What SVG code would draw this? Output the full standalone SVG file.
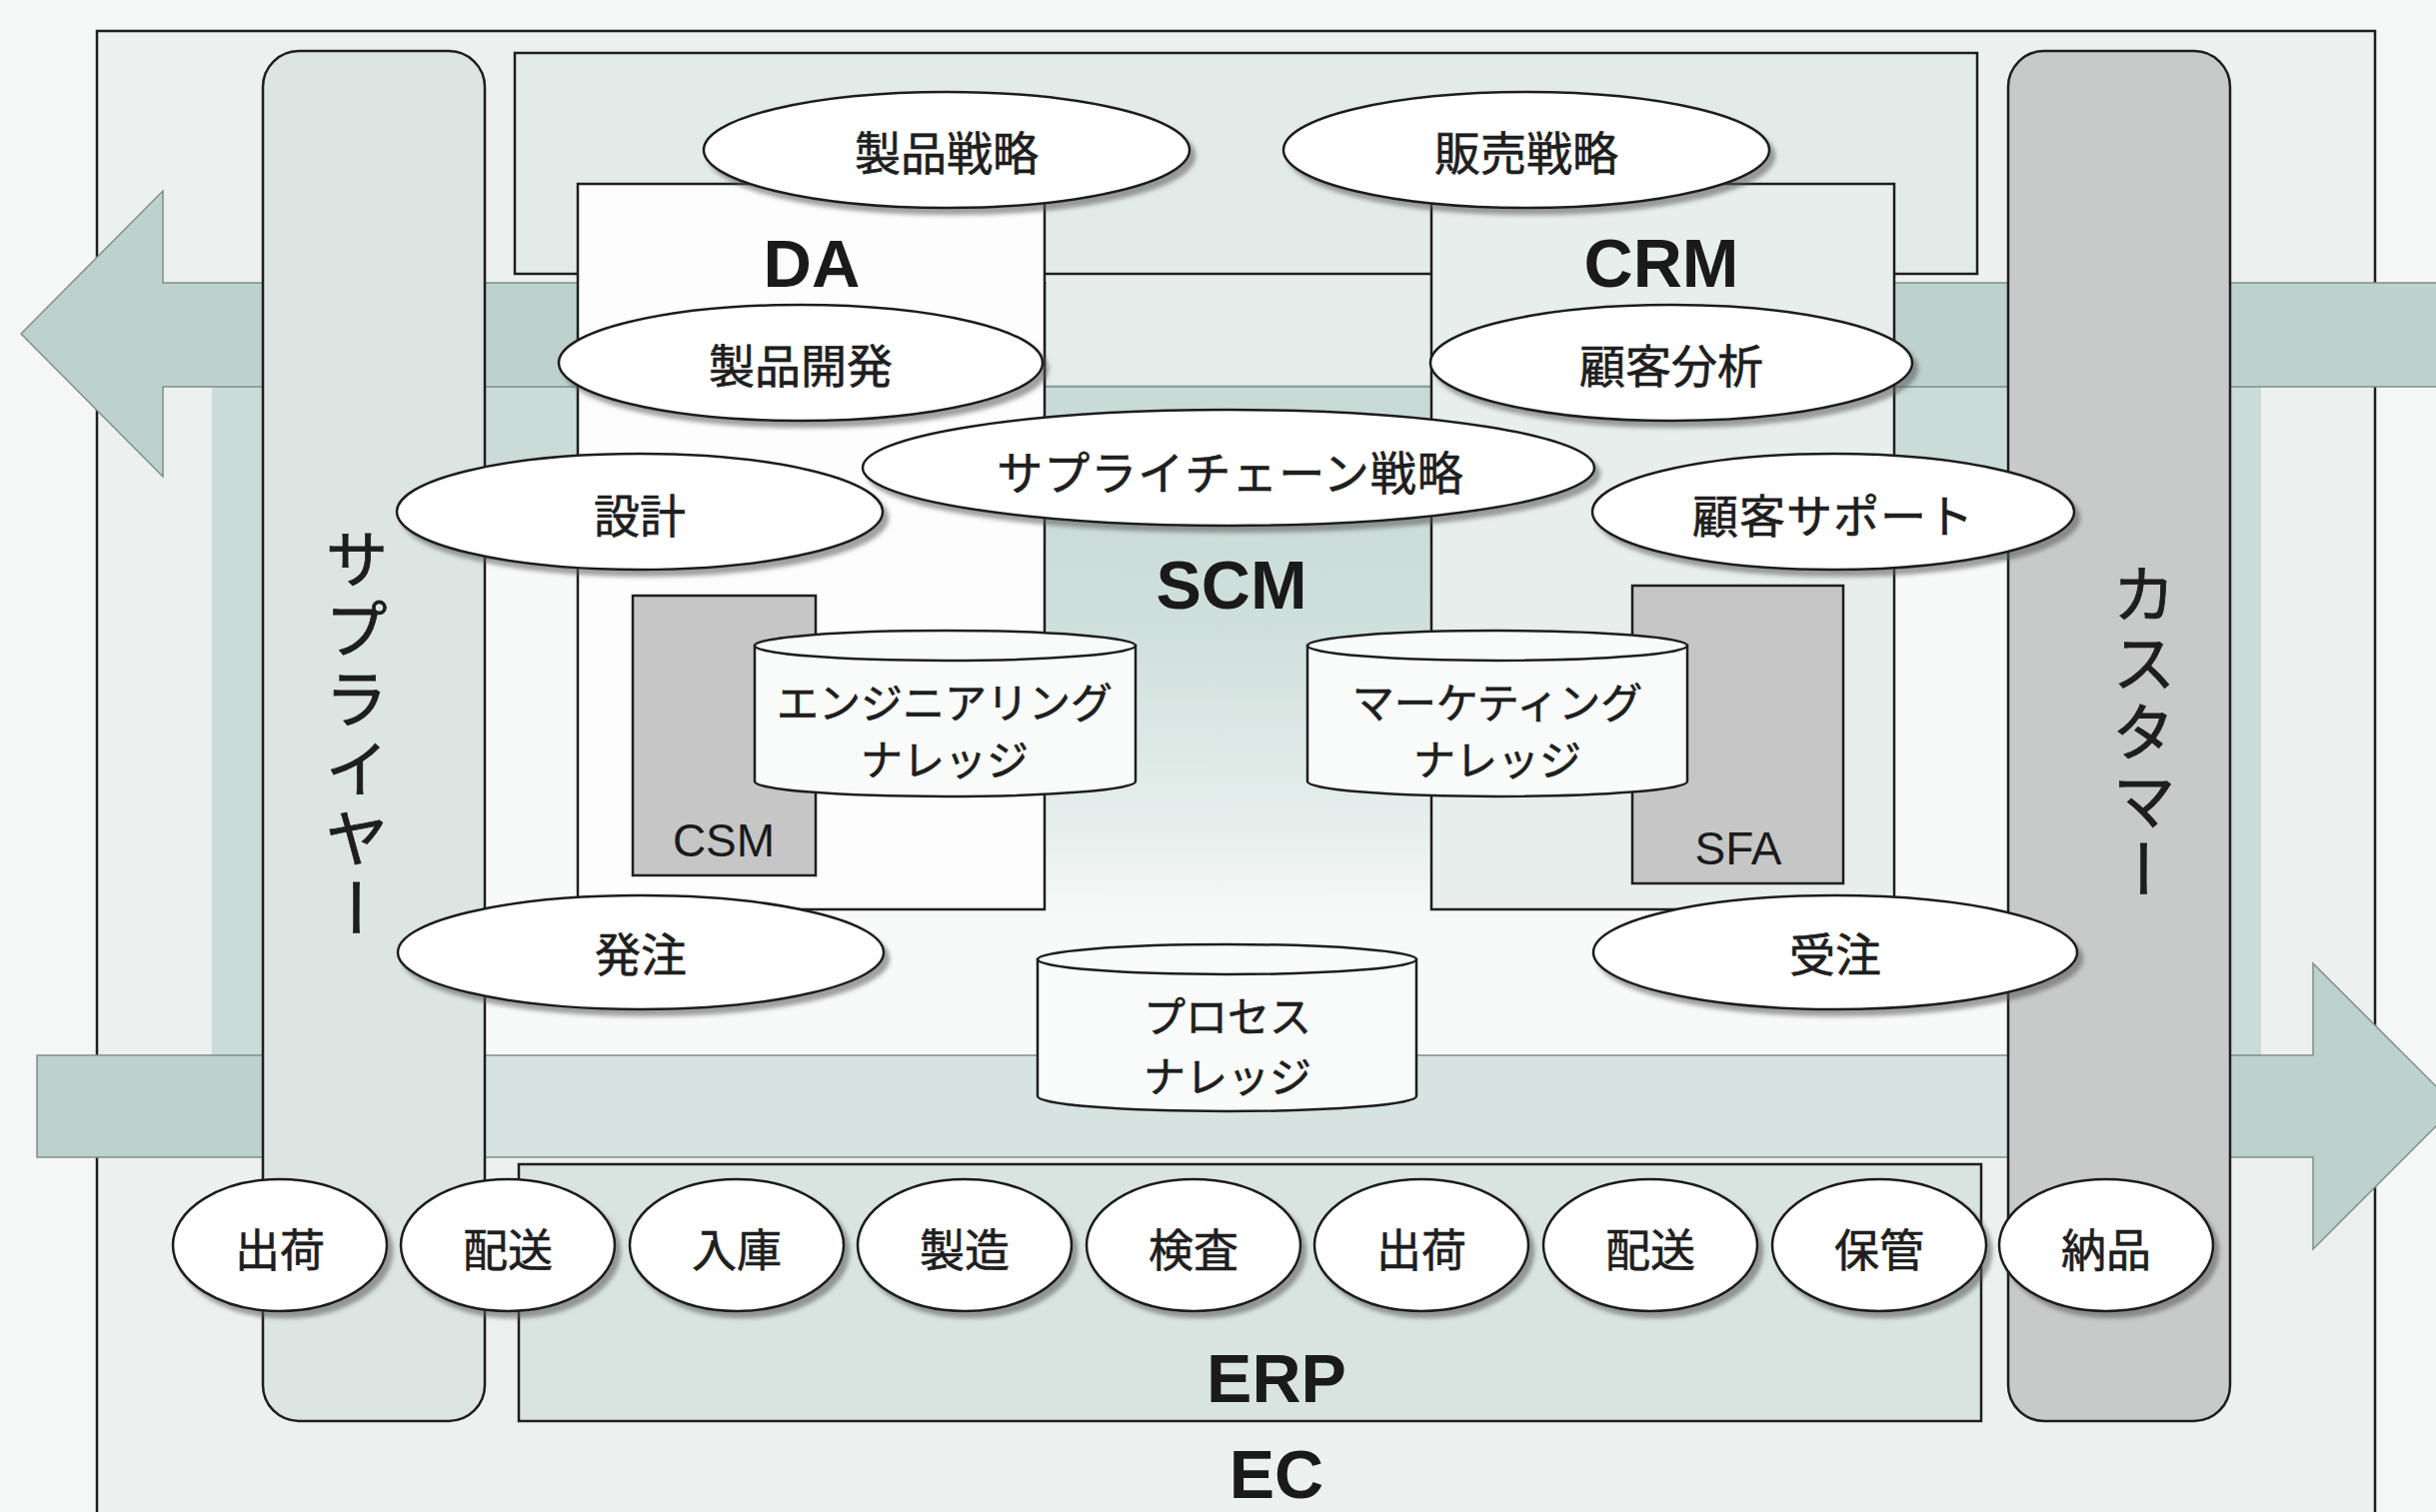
<svg xmlns="http://www.w3.org/2000/svg" width="2437" height="1513" viewBox="0 0 2437 1513">
<defs>
<style>
.box{stroke:#1e1e1e;stroke-width:2.5}
.ell{fill:#fff;stroke:#1e1e1e;stroke-width:2.5;filter:url(#sh)}
.cyl{fill:#f9fbfa;stroke:#1e1e1e;stroke-width:2.5}
.jp{font-family:"Noto Sans CJK JP","Noto Sans CJK SC",sans-serif;fill:#1e1e1e;stroke:#1e1e1e;stroke-width:0.6;text-anchor:middle;dominant-baseline:central}
.lat{font-family:"Liberation Sans",Arial,sans-serif;fill:#1a1a1a;text-anchor:middle}
.arrow{stroke:#7f8f8b;stroke-width:1.5}
.vert{font-family:"Noto Sans CJK JP","Noto Sans CJK SC",sans-serif;fill:#1e1e1e;stroke:#1e1e1e;stroke-width:0.8;writing-mode:vertical-rl;text-orientation:upright;font-size:64px}
</style>
<filter id="sh" x="-10%" y="-20%" width="125%" height="150%">
<feDropShadow dx="5" dy="6" stdDeviation="2" flood-color="#555" flood-opacity="0.55"/>
</filter>
<linearGradient id="lowband" gradientUnits="userSpaceOnUse" x1="0" y1="0" x2="2437" y2="0">
<stop offset="0" stop-color="#bdd1cd"/>
<stop offset="0.108" stop-color="#bdd1cd"/>
<stop offset="0.199" stop-color="#d6e3e0"/>
<stop offset="0.824" stop-color="#d6e3e0"/>
<stop offset="0.915" stop-color="#bdd1cd"/>
<stop offset="1" stop-color="#bdd1cd"/>
</linearGradient>
<linearGradient id="core" x1="0" y1="0" x2="0" y2="1">
<stop offset="0" stop-color="#c8dad6"/>
<stop offset="0.35" stop-color="#cfdfdb"/>
<stop offset="0.68" stop-color="#e8f0ee"/>
<stop offset="0.8" stop-color="#f8faf9"/>
<stop offset="1" stop-color="#f8faf9"/>
</linearGradient>
</defs>

<rect width="2437" height="1513" fill="#f5f7f6"/>

<g id="ec">
<rect x="97" y="31" width="2279" height="1500" fill="#ecf0ef" class="box"/>
</g>

<g id="scm-area">
<rect x="212" y="386" width="2050" height="670" fill="#cbdcd8"/>
<rect x="485" y="560" width="1524" height="496" fill="#f8faf9"/>
<rect x="1045" y="386" width="387" height="670" fill="url(#core)"/>
</g>

<g id="connectors">
<polygon class="arrow" fill="#bdd1cd" points="21,334 163,191 163,283 2450,283 2450,387 163,387 163,477"/>
<polygon class="arrow" fill="url(#lowband)" points="37,1056 2314,1056 2314,964 2457,1107 2314,1250 2314,1158 37,1158"/>
</g>

<g id="strategy">
<rect x="515" y="53" width="1463" height="221" fill="#e3ebe8" class="box"/>
</g>
<rect x="1047" y="276" width="384" height="109" fill="#e6ecea"/>

<g id="da">
<rect x="578" y="184" width="467" height="726" fill="#fdfdfd" class="box"/>
<text class="lat" x="812" y="287" font-size="67" font-weight="bold">DA</text>
</g>
<g id="crm">
<rect x="1432" y="184" width="463" height="726" fill="#e7eeec" class="box"/>
<text class="lat" x="1662" y="287" font-size="68" font-weight="bold">CRM</text>
</g>
<g id="scm-label">
<text class="lat" x="1232" y="609" font-size="68" font-weight="bold">SCM</text>
</g>

<g id="supplier">
<rect x="263" y="51" width="222" height="1371" rx="36" fill="#dce5e2" class="box"/>
<text class="vert" x="357" y="527" letter-spacing="6">サプライヤー</text>
</g>
<g id="customer">
<rect x="2009" y="51" width="222" height="1371" rx="36" fill="#c8c9c9" class="box"/>
<text class="vert" x="2145" y="562" letter-spacing="5">カスタマー</text>
</g>

<g id="erp">
<rect x="519" y="1165" width="1463" height="257" fill="#d9e4e1" class="box"/>
<text class="lat" x="1277" y="1403" font-size="68" font-weight="bold">ERP</text>
</g>
<g id="ec-label">
<text class="lat" x="1277" y="1499" font-size="68" font-weight="bold">EC</text>
</g>

<g id="csm">
<rect x="633" y="596" width="183" height="280" fill="#c6c6c6" class="box"/>
<text class="lat" x="724" y="857" font-size="46">CSM</text>
</g>
<g id="sfa">
<rect x="1633" y="586" width="211" height="298" fill="#c6c6c6" class="box"/>
<text class="lat" x="1739" y="865" font-size="46">SFA</text>
</g>

<g id="eng-knowledge">
<path class="cyl" d="M755,646 L755,782 A190.5,15 0 0 0 1136,782 L1136,646 Z"/>
<ellipse class="cyl" cx="945.5" cy="646" rx="190.5" ry="15"/>
<text class="jp" x="945" y="700" font-size="42">エンジニアリング</text>
<text class="jp" x="945" y="757" font-size="42">ナレッジ</text>
</g>
<g id="mkt-knowledge">
<path class="cyl" d="M1308,646 L1308,782 A190,15 0 0 0 1688,782 L1688,646 Z"/>
<ellipse class="cyl" cx="1498" cy="646" rx="190" ry="15"/>
<text class="jp" x="1498" y="700" font-size="42">マーケティング</text>
<text class="jp" x="1498" y="757" font-size="42">ナレッジ</text>
</g>
<g id="proc-knowledge">
<path class="cyl" d="M1038,960 L1038,1097 A189.5,15 0 0 0 1417,1097 L1417,960 Z"/>
<ellipse class="cyl" cx="1227.5" cy="960" rx="189.5" ry="15"/>
<text class="jp" x="1228" y="1014" font-size="42">プロセス</text>
<text class="jp" x="1228" y="1074" font-size="42">ナレッジ</text>
</g>

<g id="n-seihin-senryaku"><ellipse class="ell" cx="947" cy="150" rx="243" ry="58"/><text class="jp" x="947" y="150" font-size="46">製品戦略</text></g>
<g id="n-hanbai-senryaku"><ellipse class="ell" cx="1527" cy="150" rx="243" ry="58"/><text class="jp" x="1527" y="150" font-size="46">販売戦略</text></g>
<g id="n-seihin-kaihatsu"><ellipse class="ell" cx="801" cy="363" rx="242" ry="58"/><text class="jp" x="801" y="363" font-size="46">製品開発</text></g>
<g id="n-kokyaku-bunseki"><ellipse class="ell" cx="1672" cy="363" rx="241" ry="58"/><text class="jp" x="1672" y="363" font-size="46">顧客分析</text></g>
<g id="n-sc-senryaku"><ellipse class="ell" cx="1229" cy="468" rx="366" ry="58"/><text class="jp" x="1231" y="470" font-size="46" letter-spacing="1">サプライチェーン戦略</text></g>
<g id="n-sekkei"><ellipse class="ell" cx="640" cy="512" rx="243" ry="58"/><text class="jp" x="640" y="513" font-size="46">設計</text></g>
<g id="n-kokyaku-support"><ellipse class="ell" cx="1834" cy="512" rx="241" ry="58"/><text class="jp" x="1834" y="513" font-size="46" letter-spacing="1">顧客サポート</text></g>
<g id="n-hacchu"><ellipse class="ell" cx="641" cy="953" rx="243" ry="57"/><text class="jp" x="641" y="952" font-size="46">発注</text></g>
<g id="n-juchu"><ellipse class="ell" cx="1836" cy="953" rx="242" ry="57"/><text class="jp" x="1836" y="952" font-size="46">受注</text></g>

<g id="p-shukka1"><ellipse class="ell" cx="280" cy="1246" rx="107" ry="66"/><text class="jp" x="280" y="1248" font-size="45">出荷</text></g>
<g id="p-haiso1"><ellipse class="ell" cx="508" cy="1246" rx="107" ry="66"/><text class="jp" x="508" y="1248" font-size="45">配送</text></g>
<g id="p-nyuko"><ellipse class="ell" cx="737" cy="1246" rx="107" ry="66"/><text class="jp" x="737" y="1248" font-size="45">入庫</text></g>
<g id="p-seizo"><ellipse class="ell" cx="965" cy="1246" rx="107" ry="66"/><text class="jp" x="965" y="1248" font-size="45">製造</text></g>
<g id="p-kensa"><ellipse class="ell" cx="1194" cy="1246" rx="107" ry="66"/><text class="jp" x="1194" y="1248" font-size="45">検査</text></g>
<g id="p-shukka2"><ellipse class="ell" cx="1422" cy="1246" rx="107" ry="66"/><text class="jp" x="1422" y="1248" font-size="45">出荷</text></g>
<g id="p-haiso2"><ellipse class="ell" cx="1651" cy="1246" rx="107" ry="66"/><text class="jp" x="1651" y="1248" font-size="45">配送</text></g>
<g id="p-hokan"><ellipse class="ell" cx="1880" cy="1246" rx="107" ry="66"/><text class="jp" x="1880" y="1248" font-size="45">保管</text></g>
<g id="p-nohin"><ellipse class="ell" cx="2107" cy="1246" rx="107" ry="66"/><text class="jp" x="2107" y="1248" font-size="45">納品</text></g>
</svg>
